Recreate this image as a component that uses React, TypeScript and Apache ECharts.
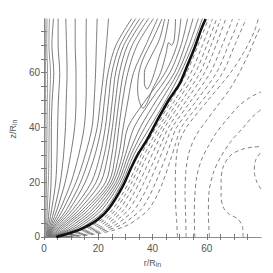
import React, { useEffect, useRef } from 'react';
import * as echarts from 'echarts';

// Shared heights (z/R_in) at which the origin-anchored solid contours are sampled
const ZLEV = [0, 2.5, 5, 10, 20, 30, 40, 50, 60, 70, 80];

// r/R_in of each solid contour at the heights in ZLEV
const AXIS_LINES = [
  [0.2, 0.2, 0.3, 0.3, 0.4, 0.4, 0.4, 0.5, 0.5, 0.5, 0.4],
  [0.4, 0.5, 0.6, 0.7, 0.9, 1.0, 1.1, 1.2, 1.3, 1.0, 1.1],
  [0.6, 0.8, 1.0, 1.2, 1.6, 1.8, 1.9, 2.1, 2.4, 1.8, 2.0],
];
const FAN_LINES = [
  [0.8, 1.1, 1.4, 1.9, 2.6, 2.7, 2.7, 3.0, 3.6, 2.9, 3.5],
  [1.0, 1.4, 1.9, 2.8, 4.3, 4.8, 5.0, 5.3, 5.8, 5.2, 5.2],
  [1.2, 1.7, 2.4, 3.8, 6.0, 7.2, 7.9, 8.2, 8.5, 8.3, 8.0],
  [1.4, 2.0, 2.9, 4.8, 7.8, 9.8, 11.3, 11.8, 11.8, 11.5, 11.5],
  [1.5, 2.3, 3.4, 5.9, 10.0, 12.8, 14.8, 15.5, 15.6, 15.5, 15.6],
  [1.6, 2.6, 4.0, 7.0, 11.8, 15.2, 17.7, 18.5, 19.0, 19.3, 19.6],
];
const BUNDLE_LINES = [
  [1.7, 2.8, 4.6, 8.3, 13.5, 17.0, 19.6, 20.8, 22.0, 23.0, 23.8],
  [1.8, 3.2, 5.2, 9.4, 15.2, 18.8, 21.1, 22.3, 23.6, 26.5, 32.5],
  [1.9, 3.6, 5.9, 10.6, 17.5, 20.7, 22.6, 23.8, 25.0, 28.0, 34.0],
  [2.0, 4.1, 6.7, 11.8, 19.2, 22.2, 24.0, 25.2, 26.4, 29.4, 35.5],
  [2.1, 4.6, 7.5, 13.0, 20.9, 23.6, 25.2, 26.4, 27.8, 30.8, 37.0],
  [2.2, 5.2, 8.4, 14.2, 22.7, 25.0, 26.4, 27.7, 29.3, 32.5, 38.7],
  [2.3, 6.0, 9.3, 15.3, 23.9, 26.3, 27.6, 29.0, 30.9, 34.3, 40.5],
];
const NEAR_LINES = [
  [2.5, 7.0, 10.4, 16.5, 24.8, 27.6, 29.2, 31.0, 33.0, 37.5, 42.0],
  [2.7, 8.0, 11.6, 17.8, 25.6, 28.9, 30.9, 37.5, 44.7, 49.0, 50.5],
  [2.9, 9.0, 12.8, 19.0, 26.5, 30.0, 33.2, 39.5, 46.4, 50.5, 53.0],
  [3.2, 10.0, 14.0, 20.2, 27.3, 31.1, 35.5, 41.5, 48.1, 52.0, 55.0],
  [3.6, 11.0, 15.2, 21.4, 28.1, 32.1, 37.2, 43.3, 49.3, 53.5, 57.0],
  [4.0, 12.0, 16.5, 22.7, 28.9, 33.1, 39.0, 45.0, 50.4, 54.8, 58.5],
];

// Closed "tongue" contours between the bundle and the wall, [r, z]
const TONGUE_A = [[43.5, 79.6], [40, 72], [36.5, 65], [35, 60], [34.5, 54], [35, 50], [36.5, 47], [38, 49], [40, 54], [43, 60], [45, 67], [46, 71], [47, 70], [48, 72], [48.5, 79.6]];
const TONGUE_B = [[44.5, 79.6], [42.5, 72], [39, 65], [37, 60], [37, 56], [38, 54], [39.3, 56], [40.7, 60], [42.5, 66], [44.5, 72], [46, 79.6]];

// Thick separatrix, [r, z]
const BOUNDARY = [[4.5, 0], [10, 1.5], [15, 3.5], [20, 6.5], [24, 10.5], [29, 18.5], [32, 25], [34.5, 30], [38, 35.5], [42, 43], [46, 50], [50, 56], [53, 63], [55.6, 69.3], [58, 76], [59.6, 79.6]];

// Shared heights for the dashed fan hugging the separatrix
const DZ = [0, 1, 2.5, 4.4, 7, 10, 15, 20, 28, 34, 40, 50, 60, 70, 79.6];
const DASH_FAN = [
  [6.0, 9.0, 13.6, 18.2, 22.2, 25.3, 28.5, 31.3, 34.9, 37.8, 41.2, 47.0, 52.6, 56.8, 60.6],
  [6.5, 10.0, 14.8, 19.5, 23.4, 26.5, 29.7, 32.4, 36.0, 39.0, 42.3, 48.3, 54.2, 58.4, 62.1],
  [7.0, 11.0, 16.2, 21.0, 24.8, 27.9, 31.0, 33.7, 37.2, 40.2, 43.4, 49.6, 55.8, 60.0, 63.6],
  [7.5, 12.2, 17.7, 22.6, 26.3, 29.5, 32.6, 35.2, 38.9, 41.6, 44.5, 51.0, 57.5, 61.6, 65.1],
  [8.0, 13.5, 19.3, 24.3, 28.0, 31.3, 34.4, 36.9, 40.6, 43.2, 45.9, 52.6, 59.2, 63.4, 67.0],
  [8.5, 15.0, 21.2, 26.3, 30.0, 33.4, 36.5, 38.9, 42.3, 44.8, 47.3, 54.4, 61.3, 65.7, 69.5],
  [9.0, 16.7, 23.3, 28.5, 32.3, 35.8, 38.9, 41.2, 44.4, 46.6, 48.9, 56.4, 63.6, 68.0, 72.0],
  [9.5, 18.8, 25.8, 31.0, 35.0, 38.5, 41.6, 43.8, 46.6, 48.5, 50.6, 58.5, 65.9, 70.3, 74.5],
];

// Outer dashed contours, [r, z]
const DASH_V1 = [[49.2, 0], [48.9, 6], [48.5, 12], [48.4, 19], [48.7, 28], [49.6, 34], [52.5, 40], [60.5, 50], [68.8, 60], [74, 68], [77.5, 75], [79, 79.6]];
const DASH_E1 = [[52.4, 0], [52.2, 8], [52, 16], [52.3, 24], [53.5, 31], [56, 37], [59.5, 42], [64, 48], [68.5, 54], [72, 60], [75.5, 67], [78.5, 74], [80, 77]];
const DASH_V2 = [[55.6, 0], [55.4, 8], [55.6, 15], [56.3, 22], [58, 28], [60.5, 33], [63.5, 38], [67.5, 43], [72, 48], [76, 51], [80, 53]];
const DASH_R1 = [[61, 0], [60.6, 8], [60.8, 16], [62.3, 23], [65, 29], [69, 35], [73.5, 40], [77, 44], [80, 46.5]];
const DASH_LOOP = [[73.4, 0], [73.2, 3.5], [71.5, 6.5], [68, 8.5], [66, 11], [65.3, 15], [65.3, 21], [66.2, 26], [69, 30], [73, 32], [77, 32.8], [80, 33]];
const DASH_EDGE = [[80, 17.5], [78.5, 20], [77.5, 24], [78, 28], [80, 31]];

// Axis ticks
const X_LABELS = [0, 20, 40, 60];
const Y_LABELS = [0, 20, 40, 60];
const X_TICKS = [0, 5, 10, 15, 20, 25, 30, 35, 40, 45, 50, 55, 60, 65, 70, 75];
const Y_TICKS = [0, 5, 10, 15, 20, 25, 30, 35, 40, 45, 50, 55, 60, 65, 70, 75];

export default function App() {
  const ref = useRef<HTMLDivElement>(null);
  useEffect(() => {
    const chart = echarts.init(ref.current!, null, { renderer: 'svg' });
    const FONT = 'Liberation Sans, Arial, sans-serif';
    const solidStyle = { color: '#6c6c6c', width: 0.9 };
    const dashStyle = { color: '#737373', width: 0.9, type: [4, 3] as any };
    const line = (data: number[][], style: any, z = 2) => ({
      type: 'line', data, showSymbol: false, symbol: 'none', smooth: 0.3, silent: true,
      lineStyle: style, z, clip: true,
    });
    const level = (rs: number[]) => ZLEV.map((z, i) => [rs[i], z]);
    const dlevel = (rs: number[]) => DZ.map((z, i) => [rs[i], z]);
    const series: any[] = [
      ...AXIS_LINES.map(rs => line(level(rs), { color: '#8a8a8a', width: 0.9 })),
      ...FAN_LINES.map(rs => line(level(rs), solidStyle)),
      ...BUNDLE_LINES.map(rs => line(level(rs), solidStyle)),
      ...NEAR_LINES.map(rs => line(level(rs), solidStyle)),
      line(TONGUE_A, solidStyle),
      line(TONGUE_B, solidStyle),
      ...DASH_FAN.map(rs => line(dlevel(rs), dashStyle)),
      ...[DASH_V1, DASH_E1, DASH_V2, DASH_R1, DASH_LOOP, DASH_EDGE].map(d => line(d, dashStyle)),
      line(BOUNDARY, { color: '#111', width: 2.6 }, 5),
    ];
    const axLine = { show: true, lineStyle: { color: '#8c8c8c', width: 1 } };
    const tick = (vals: number[]) => ({ show: true, inside: true, length: 3, customValues: vals, lineStyle: { color: '#777', width: 1 } });
    const rich = {
      a: { fontSize: 9, color: '#555', fontFamily: FONT },
      s: { fontSize: 7, color: '#555', fontFamily: FONT, padding: [4, 0, 0, 0] },
    };
    const option: any = {
      animation: false,
      backgroundColor: '#fff',
      grid: { left: 30, right: 12, top: 19, bottom: 28, containLabel: false },
      xAxis: [
        {
          type: 'value', min: 0, max: 80, position: 'bottom',
          axisLine: axLine, axisTick: tick(X_TICKS), splitLine: { show: false },
          axisLabel: { customValues: X_LABELS, color: '#555', fontSize: 10, fontFamily: FONT, margin: 4 },
          name: '{a|r/R}{s|in}', nameLocation: 'middle', nameGap: 11,
          nameTextStyle: { rich },
        },
        {
          type: 'value', min: 0, max: 80, position: 'top',
          axisLine: axLine, axisTick: tick(X_TICKS), splitLine: { show: false }, axisLabel: { show: false },
        },
      ],
      yAxis: [
        {
          type: 'value', min: -0.8, max: 79.6, position: 'left',
          axisLine: axLine, axisTick: tick(Y_TICKS), splitLine: { show: false },
          axisLabel: { customValues: Y_LABELS, color: '#555', fontSize: 10, fontFamily: FONT, margin: 4 },
          name: '{a|z/R}{s|in}', nameLocation: 'middle', nameGap: 18,
          nameTextStyle: { rich },
        },
        {
          type: 'value', min: -0.8, max: 79.6, position: 'right',
          axisLine: axLine, axisTick: tick(Y_TICKS), splitLine: { show: false }, axisLabel: { show: false },
        },
      ],
      series,
    };
    chart.setOption(option);
    return () => chart.dispose();
  }, []);
  return <div ref={ref} style={{ position: 'fixed', left: 0, top: 0, width: 273, height: 273, background: '#fff' }} />;
}
